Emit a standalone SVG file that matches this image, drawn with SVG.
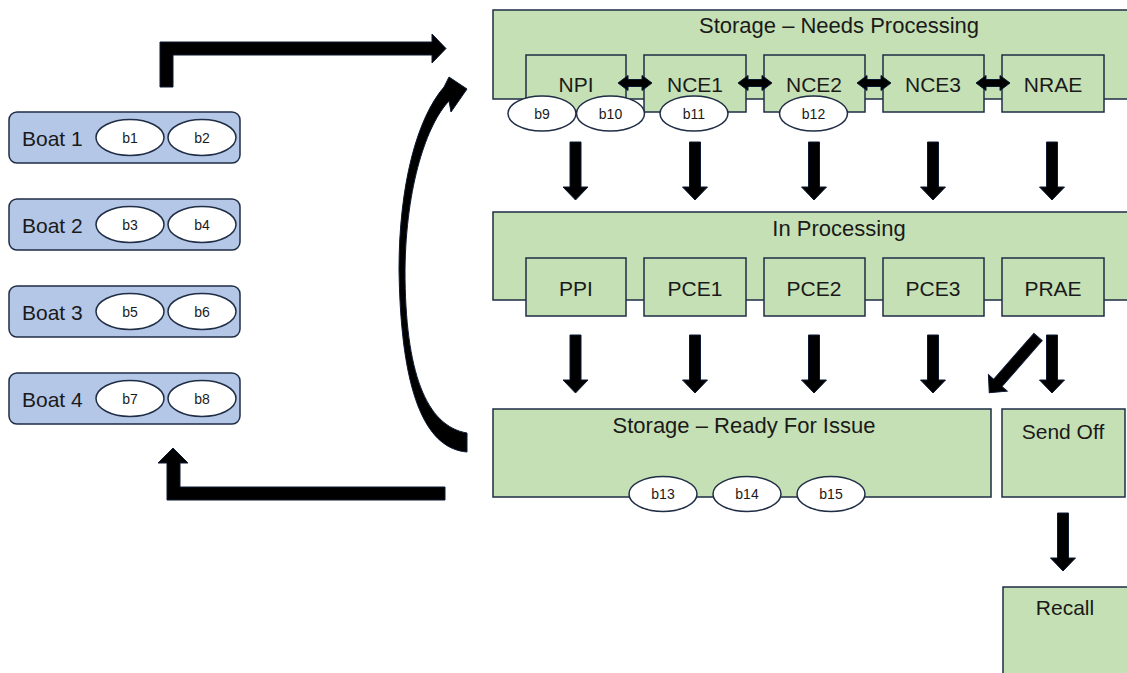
<svg xmlns="http://www.w3.org/2000/svg" width="1127" height="673" viewBox="0 0 1127 673">
<style>
.g{fill:#C5E0B4;stroke:#1F2D45;stroke-width:1.5}
.bt{fill:#B4C7E7;stroke:#1F2D45;stroke-width:1.5}
.ov{fill:#FFFFFF;stroke:#1F2D45;stroke-width:1.5}
.t{font-family:"Liberation Sans",Arial,sans-serif;font-size:21px;fill:#1a1a1a;text-anchor:middle}
.tt{font-family:"Liberation Sans",Arial,sans-serif;font-size:22px;fill:#1a1a1a;text-anchor:middle}
.tl{font-family:"Liberation Sans",Arial,sans-serif;font-size:21px;fill:#1a1a1a}
.s{font-family:"Liberation Sans",Arial,sans-serif;font-size:14px;fill:#1a1a1a;text-anchor:middle}
.ar{fill:#000000;stroke:#0D1A33;stroke-width:1}
</style>
<defs>
<path id="down" d="M -5.5,0 H 5.5 V 45 H 12.5 L 0,58 L -12.5,45 H -5.5 Z"/>
<path id="dbl" d="M -17,0 L -7,-7.5 V -3.5 H 7 V -7.5 L 17,0 L 7,7.5 V 3.5 H -7 V 7.5 Z"/>
</defs>
<rect width="1127" height="673" fill="#FFFFFF"/>

<g id="boat1"><rect class="bt" x="9" y="112" width="231" height="51" rx="8"/><text class="tl" x="22" y="146">Boat 1</text>
<ellipse class="ov" cx="130" cy="137.5" rx="34" ry="18"/><text class="s" x="130" y="142.5">b1</text>
<ellipse class="ov" cx="202" cy="137.5" rx="34" ry="18"/><text class="s" x="202" y="142.5">b2</text></g>
<g id="boat2"><rect class="bt" x="9" y="199" width="231" height="51" rx="8"/><text class="tl" x="22" y="233">Boat 2</text>
<ellipse class="ov" cx="130" cy="224.5" rx="34" ry="18"/><text class="s" x="130" y="229.5">b3</text>
<ellipse class="ov" cx="202" cy="224.5" rx="34" ry="18"/><text class="s" x="202" y="229.5">b4</text></g>
<g id="boat3"><rect class="bt" x="9" y="286" width="231" height="51" rx="8"/><text class="tl" x="22" y="320">Boat 3</text>
<ellipse class="ov" cx="130" cy="311.5" rx="34" ry="18"/><text class="s" x="130" y="316.5">b5</text>
<ellipse class="ov" cx="202" cy="311.5" rx="34" ry="18"/><text class="s" x="202" y="316.5">b6</text></g>
<g id="boat4"><rect class="bt" x="9" y="373" width="231" height="51" rx="8"/><text class="tl" x="22" y="407">Boat 4</text>
<ellipse class="ov" cx="130" cy="398.5" rx="34" ry="18"/><text class="s" x="130" y="403.5">b7</text>
<ellipse class="ov" cx="202" cy="398.5" rx="34" ry="18"/><text class="s" x="202" y="403.5">b8</text></g>

<g id="needs-processing"><rect class="g" x="493" y="10" width="692" height="89"/><text class="tt" x="839" y="33">Storage – Needs Processing</text></g>
<g id="npi"><rect class="g" x="526" y="55" width="100" height="57"/><text class="t" x="576" y="92">NPI</text></g>
<g id="nce1"><rect class="g" x="644" y="55" width="102" height="57"/><text class="t" x="695" y="92">NCE1</text></g>
<g id="nce2"><rect class="g" x="764" y="55" width="101" height="57"/><text class="t" x="814" y="92">NCE2</text></g>
<g id="nce3"><rect class="g" x="883" y="55" width="101" height="57"/><text class="t" x="933" y="92">NCE3</text></g>
<g id="nrae"><rect class="g" x="1002" y="55" width="102" height="57"/><text class="t" x="1053" y="92">NRAE</text></g>

<g id="in-processing"><rect class="g" x="493" y="212" width="692" height="88"/><text class="tt" x="839" y="236">In Processing</text></g>
<g id="ppi"><rect class="g" x="526" y="258" width="100" height="58"/><text class="t" x="576" y="296">PPI</text></g>
<g id="pce1"><rect class="g" x="644" y="258" width="102" height="58"/><text class="t" x="695" y="296">PCE1</text></g>
<g id="pce2"><rect class="g" x="764" y="258" width="101" height="58"/><text class="t" x="814" y="296">PCE2</text></g>
<g id="pce3"><rect class="g" x="883" y="258" width="101" height="58"/><text class="t" x="933" y="296">PCE3</text></g>
<g id="prae"><rect class="g" x="1002" y="258" width="102" height="58"/><text class="t" x="1053" y="296">PRAE</text></g>

<g id="ready-for-issue"><rect class="g" x="493" y="409" width="498" height="88"/><text class="tt" x="744" y="433">Storage – Ready For Issue</text></g>
<g id="send-off"><rect class="g" x="1002" y="409" width="123" height="88"/><text class="t" x="1063" y="439">Send Off</text></g>
<g id="recall"><rect class="g" x="1003" y="587" width="130" height="100"/><text class="t" x="1065" y="615">Recall</text></g>

<g id="connectors">
<path class="ar" d="M 160,87 V 42 H 432 V 34 L 446,48.5 L 432,63 V 55 H 173 V 87 Z"/>
<path class="ar" d="M 445,487 V 500 H 167 V 463 H 158 L 173,448 L 188,463 H 180 V 487 Z"/>
<path class="ar" d="M 467,452 C 430,449 401,405 399,270 C 399,185 417,118 444,87 L 449,77 L 467,89 L 451,112 L 449,101 C 427,124 406,185 405,270 C 405,372 426,426 467,433 Z"/>
<use href="#dbl" class="ar" x="635" y="83"/>
<use href="#dbl" class="ar" x="755" y="83"/>
<use href="#dbl" class="ar" x="874" y="83"/>
<use href="#dbl" class="ar" x="993" y="83"/>
<use href="#down" class="ar" x="575.5" y="142"/>
<use href="#down" class="ar" x="695" y="142"/>
<use href="#down" class="ar" x="814" y="142"/>
<use href="#down" class="ar" x="933" y="142"/>
<use href="#down" class="ar" x="1052" y="142"/>
<use href="#down" class="ar" x="575.5" y="335"/>
<use href="#down" class="ar" x="695" y="335"/>
<use href="#down" class="ar" x="814" y="335"/>
<use href="#down" class="ar" x="933" y="335"/>
<use href="#down" class="ar" x="1052" y="335"/>
<path class="ar" transform="translate(1038,337) rotate(41.2)" d="M -5.5,0 H 5.5 V 61 H 12.5 L 0,74 L -12.5,61 H -5.5 Z"/>
<use href="#down" class="ar" x="1063" y="513"/>
</g>

<g id="b9"><ellipse class="ov" cx="542" cy="113.5" rx="34" ry="17.5"/><text class="s" x="542" y="118.5">b9</text></g>
<g id="b10"><ellipse class="ov" cx="610.5" cy="113.5" rx="34" ry="17.5"/><text class="s" x="610.5" y="118.5">b10</text></g>
<g id="b11"><ellipse class="ov" cx="694" cy="113.5" rx="34" ry="17.5"/><text class="s" x="694" y="118.5">b11</text></g>
<g id="b12"><ellipse class="ov" cx="813.5" cy="113.5" rx="34" ry="17.5"/><text class="s" x="813.5" y="118.5">b12</text></g>
<g id="b13"><ellipse class="ov" cx="663" cy="494" rx="34" ry="17.5"/><text class="s" x="663" y="499">b13</text></g>
<g id="b14"><ellipse class="ov" cx="747" cy="494" rx="34" ry="17.5"/><text class="s" x="747" y="499">b14</text></g>
<g id="b15"><ellipse class="ov" cx="831" cy="494" rx="34" ry="17.5"/><text class="s" x="831" y="499">b15</text></g>
</svg>
